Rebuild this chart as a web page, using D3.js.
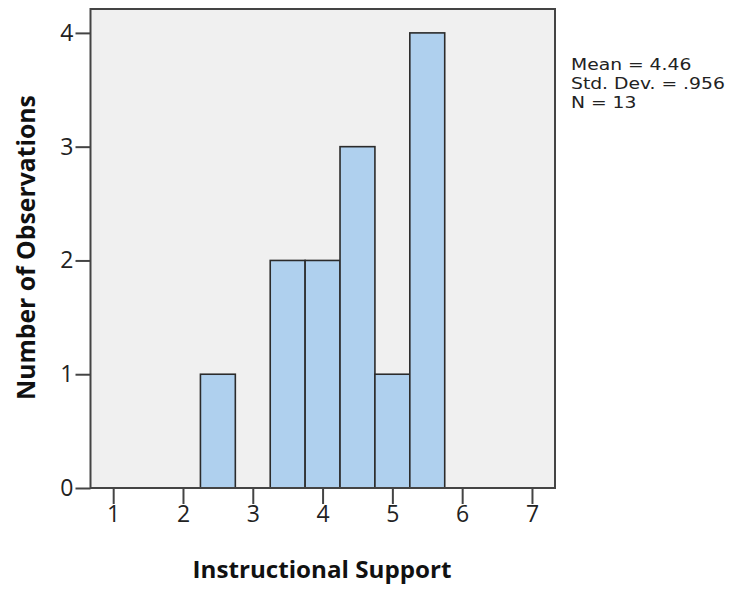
<!DOCTYPE html>
<html>
<head>
<meta charset="utf-8">
<script src="https://cdn.jsdelivr.net/npm/d3@7"></script>
<style>
  html, body { margin: 0; padding: 0; background: #fff; }
  svg { display: block; }
</style>
</head>
<body>
<svg id="chart" width="730" height="589"></svg>
<script>
// Histogram bins (lower edge, upper edge) and counts
const binStarts = [2.25, 3.25, 3.75, 4.25, 4.75, 5.25];
const binEnds   = [2.75, 3.75, 4.25, 4.75, 5.25, 5.75];
const counts    = [1, 2, 2, 3, 1, 4];
const xTicks = [1, 2, 3, 4, 5, 6, 7];
const yTicks = [0, 1, 2, 3, 4];
const statLines = ["Mean = 4.46", "Std. Dev. = .956", "N = 13"];
const xTitle = "Instructional Support";
const yTitle = "Number of Observations";

const bins = binStarts.map((s, i) => ({ x0: s, x1: binEnds[i], n: counts[i] }));

const svg = d3.select("#chart");
const plot = { left: 90.5, right: 555, top: 9, bottom: 488 };

const x = d3.scaleLinear().domain([0.675, 7.33]).range([plot.left, plot.right]);
const y = d3.scaleLinear().domain([0, 4.21]).range([plot.bottom, plot.top]);

const font = "'Open Sans', 'Noto Sans', sans-serif";
const statFont = "'DejaVu Sans', sans-serif";

// Narrow a text element horizontally so its rendered width equals `w`,
// keeping its anchor point fixed.
function fitWidth(node, w, ax, ay) {
  const cur = node.getComputedTextLength();
  const k = w / cur;
  const t = node.getAttribute("transform") || "";
  node.setAttribute("transform",
    `translate(${ax},${ay}) scale(${k},1) translate(${-ax},${-ay}) ` + t);
}

// plot background
svg.append("rect")
  .attr("x", plot.left).attr("y", plot.top)
  .attr("width", plot.right - plot.left).attr("height", plot.bottom - plot.top)
  .attr("fill", "#f0f0f0");

// bars
svg.append("g").selectAll("rect").data(bins).join("rect")
  .attr("x", d => x(d.x0))
  .attr("y", d => y(d.n))
  .attr("width", d => x(d.x1) - x(d.x0))
  .attr("height", d => y(0) - y(d.n))
  .attr("fill", "#afd0ee")
  .attr("stroke", "#2b2b2b")
  .attr("stroke-width", 1.6);

// frame
svg.append("rect")
  .attr("x", plot.left).attr("y", plot.top)
  .attr("width", plot.right - plot.left).attr("height", plot.bottom - plot.top)
  .attr("fill", "none")
  .attr("stroke", "#444")
  .attr("stroke-width", 2);

// x axis
const xAxis = svg.append("g")
  .attr("transform", `translate(0,${plot.bottom})`)
  .call(d3.axisBottom(x).tickValues(xTicks).tickSize(16).tickPadding(2).tickFormat(d3.format("d")));
xAxis.select(".domain").remove();
xAxis.selectAll("line").attr("stroke", "#444").attr("stroke-width", 2);
xAxis.selectAll("text").attr("font-family", font).attr("font-size", 23).attr("fill", "#222");

// y axis
const yAxis = svg.append("g")
  .attr("transform", `translate(${plot.left},0)`)
  .call(d3.axisLeft(y).tickValues(yTicks).tickSize(15).tickPadding(2).tickFormat(d3.format("d")));
yAxis.select(".domain").remove();
yAxis.selectAll("line").attr("stroke", "#444").attr("stroke-width", 2);
yAxis.selectAll("text").attr("font-family", font).attr("font-size", 23).attr("fill", "#222");

// axis titles
const xt = svg.append("text")
  .attr("x", 322).attr("y", 578)
  .attr("text-anchor", "middle")
  .attr("font-family", font).attr("font-weight", "bold").attr("font-size", 24)
  .attr("fill", "#111")
  .text(xTitle);
fitWidth(xt.node(), 259, 322, 578);

const yt = svg.append("text")
  .attr("x", 0).attr("y", 0)
  .attr("text-anchor", "middle")
  .attr("font-family", font).attr("font-weight", "bold").attr("font-size", 25)
  .attr("fill", "#111")
  .text(yTitle);
fitWidth(yt.node(), 305, 0, 0);
yt.attr("transform", "translate(35,247.5) rotate(-90) " + yt.attr("transform"));

// summary statistics
const statY = i => 70 + i * 19;
const stats = svg.append("g").selectAll("text").data(statLines).join("text")
  .attr("x", 571)
  .attr("y", (d, i) => statY(i))
  .attr("font-family", statFont).attr("font-size", 16)
  .attr("fill", "#222")
  .text(d => d);
const widest = stats.nodes()[1].getComputedTextLength();
stats.each(function(d, i) {
  const yy = statY(i);
  this.setAttribute("transform",
    `translate(571,${yy}) scale(${154 / widest},1) translate(-571,${-yy})`);
});
</script>
</body>
</html>
